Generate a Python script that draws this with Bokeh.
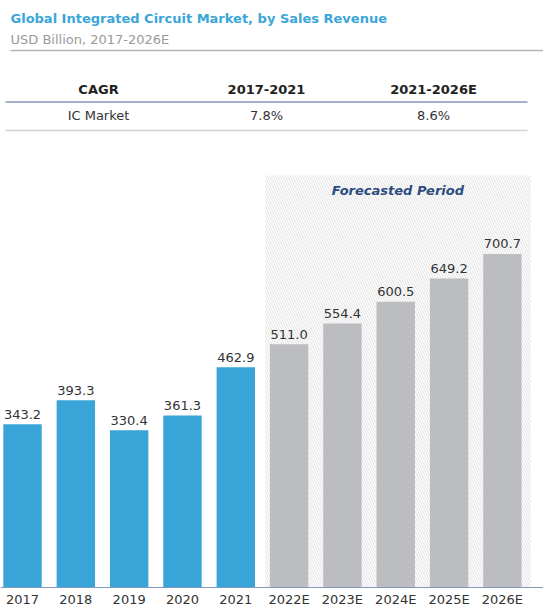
from bokeh.plotting import figure
from bokeh.layouts import column
from bokeh.models import Range1d, BoxAnnotation, Label, ColumnDataSource, Span
from bokeh.core.properties import value
from bokeh.embed import file_html
from bokeh.resources import INLINE

# ---- data ----
years = ["2017", "2018", "2019", "2020", "2021", "2022E", "2023E", "2024E", "2025E", "2026E"]
revenue = [343.2, 393.3, 330.4, 361.3, 462.9, 511.0, 554.4, 600.5, 649.2, 700.7]
is_forecast = [False, False, False, False, False, True, True, True, True, True]

cagr_header = ["CAGR", "2017-2021", "2021-2026E"]
cagr_row = ["IC Market", "7.8%", "8.6%"]

title = "Global Integrated Circuit Market, by Sales Revenue"
subtitle = "USD Billion, 2017-2026E"
forecast_label = "Forecasted Period"

FONT = "DejaVu Sans"
BLUE = "#38a4d7"
GRAY = "#bcbdc0"

W = 543
HEAD_H = 165
BAR_H = 607 - HEAD_H

# ---- header figure (title + CAGR table), coordinates in page pixels ----
h = figure(width=W, height=HEAD_H, x_range=Range1d(0, W), y_range=Range1d(HEAD_H, 0),
           output_backend="svg", toolbar_location=None, min_border=0)
h.axis.visible = False
h.grid.visible = False
h.outline_line_color = None

h.text(x=[10], y=[18], text=[title], text_font=value(FONT), text_font_style="bold",
       text_font_size="13px", text_color="#3ba6d9", text_baseline="middle", text_align="left")
h.text(x=[10], y=[39], text=[subtitle], text_font=value(FONT),
       text_font_size="13px", text_color="#9a9a9a", text_baseline="middle", text_align="left")
h.segment(x0=[10], y0=[50], x1=[W], y1=[50], line_color="#b4b4b4", line_width=1.5)

col_x = [98, 266, 433]
h.text(x=col_x, y=[89] * 3, text=cagr_header, text_font=value(FONT), text_font_style="bold",
       text_font_size="13px", text_color="#222222", text_baseline="middle", text_align="center")
h.segment(x0=[5], y0=[101.5], x1=[527], y1=[101.5], line_color="#a3b2c8", line_width=2)
h.text(x=col_x, y=[115] * 3, text=cagr_row, text_font=value(FONT),
       text_font_size="13px", text_color="#333333", text_baseline="middle", text_align="center")
h.segment(x0=[5], y0=[130], x1=[527], y1=[130], line_color="#d2d2d2", line_width=1.5)

# ---- bar figure ----
xs = list(range(len(years)))
colors = [GRAY if f else BLUE for f in is_forecast]
labels = [f"{v:.1f}" for v in revenue]
src = ColumnDataSource(dict(x=xs, top=revenue, color=colors, label=labels, year=years,
                            zero=[0] * len(years)))

p = figure(width=W, height=BAR_H, x_range=Range1d(-0.413, 9.771), y_range=Range1d(-42, 886.6),
           output_backend="svg", toolbar_location=None, min_border=0)
p.axis.visible = False
p.grid.visible = False
p.outline_line_color = None

first_fc = is_forecast.index(True)
fc_box = BoxAnnotation(left=first_fc - 0.45, right=len(years) - 0.47, bottom=0, top=865.5,
                       fill_color="#ffffff", fill_alpha=1.0, line_color=None,
                       hatch_pattern="\\", hatch_color="#e0e0e0", hatch_scale=5,
                       hatch_weight=1, level="underlay")
p.add_layout(fc_box)

p.vbar(x="x", top="top", bottom=0, width=0.72, color="color", line_color=None, source=src)

p.text(x="x", y="top", text="label", source=src, text_font=value(FONT), text_font_size="13px",
       text_color="#333333", text_align="center", text_baseline="alphabetic", y_offset=-10)

p.add_layout(Span(location=0, dimension="width", line_color="#7f9bbf", line_width=1))

p.text(x="x", y="zero", text="year", source=src, text_font=value(FONT), text_font_size="13px",
       text_color="#333333", text_align="center", text_baseline="alphabetic", y_offset=12)

p.add_layout(Label(x=(first_fc - 0.45 + len(years) - 0.47) / 2, y=834, text=forecast_label,
                   text_font=FONT, text_font_size="13px", text_font_style="bold italic",
                   text_color="#2c4c80", text_align="center", text_baseline="middle"))

layout = column(h, p, spacing=0)
open("out.html", "w").write(file_html(layout, INLINE))
